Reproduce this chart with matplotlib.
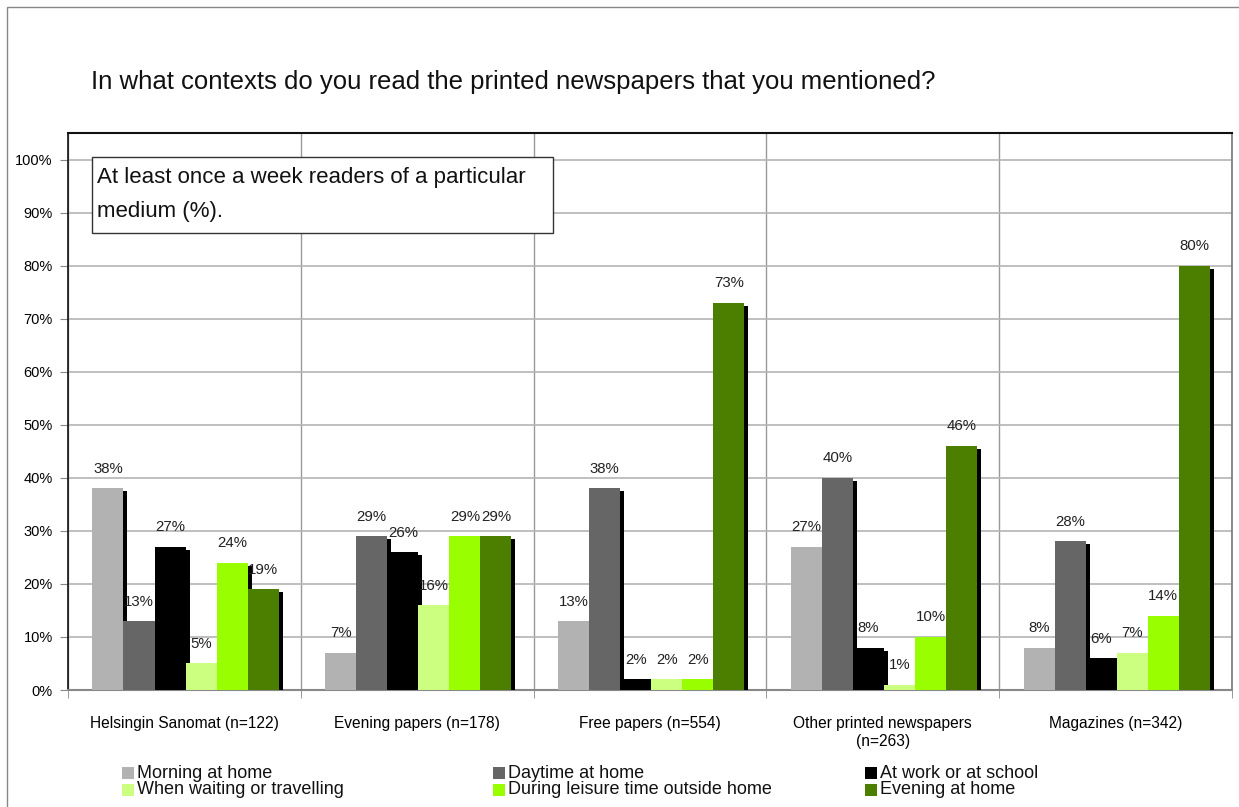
import matplotlib
matplotlib.use("Agg")
import matplotlib.pyplot as plt
from matplotlib.patches import Rectangle
from matplotlib.transforms import ScaledTranslation, IdentityTransform
import numpy as np

plt.rcParams['font.family'] = ['Liberation Sans', 'DejaVu Sans']

title = "In what contexts do you read the printed newspapers that you mentioned?"
note_lines = ["At least once a week readers of a particular", "medium (%)."]

groups = ["Helsingin Sanomat (n=122)", "Evening papers (n=178)", "Free papers (n=554)",
          "Other printed newspapers\n(n=263)", "Magazines (n=342)"]
series = ["Morning at home", "Daytime at home", "At work or at school",
          "When waiting or travelling", "During leisure time outside home", "Evening at home"]
colors = ["#B2B2B2", "#666666", "#000000", "#CCFF80", "#99FF00", "#4C7F00"]

morning = [38, 7, 13, 27, 8]
daytime = [13, 29, 38, 40, 28]
work = [27, 26, 2, 8, 6]
waiting = [5, 16, 2, 1, 7]
leisure = [24, 29, 2, 10, 14]
evening = [19, 29, 73, 46, 80]
values = [morning, daytime, work, waiting, leisure, evening]

yticks = list(range(0, 101, 10))

W, H, DPI = 1239, 807, 100
fig = plt.figure(figsize=(W / DPI, H / DPI), dpi=DPI)

# outer chart border (only its left and top edges fall inside the image)
fig.patches.append(Rectangle((7, -20), W + 20, H - 7 + 20, transform=IdentityTransform(),
                             fill=False, edgecolor="#888888", lw=1))

def fx(px):
    return px / W

def fy(py):
    return 1 - py / H

ax = fig.add_axes([fx(68), fy(690), fx(1232) - fx(68), fy(133) - fy(690)])
ax.set_xlim(0, len(groups))
ax.set_ylim(0, 105)

n = len(series)
bw = 0.8 / n
x0 = np.arange(len(groups))
shadow_tr = ax.transData + ScaledTranslation(4 / DPI, -3 / DPI, fig.dpi_scale_trans)

for j, (vals, col) in enumerate(zip(values, colors)):
    xs = x0 + 0.105 + bw * (j + 0.5)
    ax.bar(xs, vals, width=bw, color="black", linewidth=0, zorder=2 + 2 * j,
           transform=shadow_tr)
    ax.bar(xs, vals, width=bw, color=col, linewidth=0, zorder=3 + 2 * j)
    for x, v in zip(xs, vals):
        ax.annotate(f"{v}%", (x, v), xytext=(0, 9), textcoords="offset points",
                    ha="center", va="bottom", fontsize=10.8, color="#222222", zorder=30)

# gridlines and axes
ax.set_yticks(yticks)
ax.set_yticklabels([f"{t}%" for t in yticks], fontsize=10.5)
ax.yaxis.grid(True, color="#B4B4B4", lw=1.2, zorder=0)
ax.set_xticks(x0 + 0.5)
ax.set_xticklabels(groups, fontsize=11.2, linespacing=1.25, va="top")
ax.set_xticks(np.arange(0, len(groups) + 1), minor=True)
ax.xaxis.grid(True, which="minor", color="#999999", lw=1, zorder=0)
ax.tick_params(axis="x", which="major", length=0, pad=19)
ax.tick_params(axis="x", which="minor", length=6, color="#888888")
ax.tick_params(axis="y", length=6, color="#888888", pad=5)
ax.set_axisbelow(True)
ax.spines["top"].set_color("#111111")
ax.spines["top"].set_linewidth(1.5)
ax.spines["left"].set_color("#111111")
ax.spines["left"].set_linewidth(1.2)
ax.spines["bottom"].set_color("#888888")
ax.spines["bottom"].set_linewidth(1.5)
ax.spines["right"].set_color("#777777")
ax.spines["right"].set_linewidth(1.2)

# title
fig.text(fx(91), fy(82), title, fontsize=18.5, ha="left", va="center", color="#111111")

# note box
fig.patches.append(Rectangle((92, H - 233), 553 - 92, 233 - 157, transform=IdentityTransform(),
                             facecolor="white", edgecolor="#333333", lw=1, zorder=40))
fig.text(fx(97), fy(177), note_lines[0], fontsize=16, ha="left", va="center",
         color="#111111", zorder=41)
fig.text(fx(97), fy(211), note_lines[1], fontsize=16, ha="left", va="center",
         color="#111111", zorder=41)

# legend: two rows, three columns
col_x = [122, 493, 865]
row_y = [773, 790]
for k, (name, col) in enumerate(zip(series, colors)):
    r, c = divmod(k, 3)
    cx, cy = col_x[c], row_y[r]
    fig.patches.append(Rectangle((cx, H - cy - 6), 12, 12, transform=IdentityTransform(),
                                 facecolor=col, edgecolor="none"))
    fig.text(fx(cx + 15), fy(cy), name, fontsize=13, ha="left", va="center", color="#111111")

fig.savefig("out.png", dpi=DPI)
